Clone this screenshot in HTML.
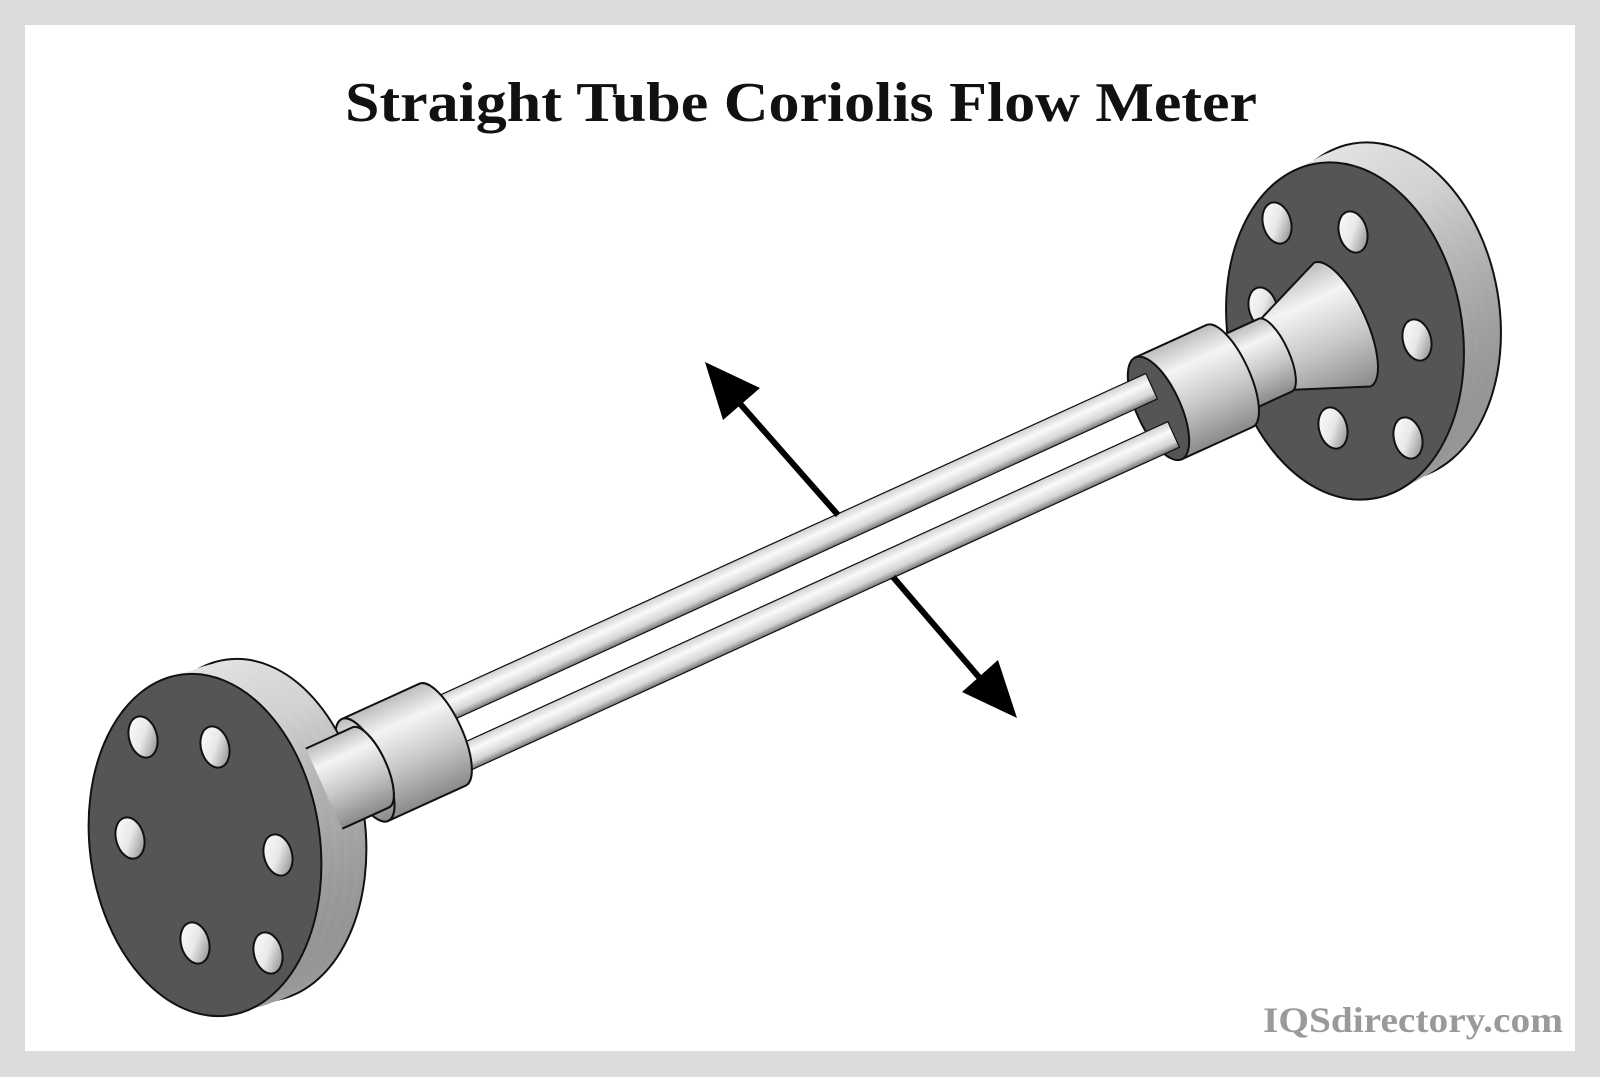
<!DOCTYPE html>
<html><head><meta charset="utf-8"><style>
html,body{margin:0;padding:0;background:#dcdcdc;}
svg{display:block;}
</style></head><body>
<svg width="1600" height="1077" viewBox="0 0 1600 1077" xmlns="http://www.w3.org/2000/svg">
<defs>
<linearGradient id="cyl" x1="0" y1="0" x2="0" y2="1">
<stop offset="0" stop-color="#bdbdbd"/><stop offset="0.25" stop-color="#f4f4f4"/><stop offset="0.6" stop-color="#c8c8c8"/><stop offset="1" stop-color="#8a8a8a"/></linearGradient>
<linearGradient id="tube" x1="0" y1="0" x2="0" y2="1">
<stop offset="0" stop-color="#d0d0d0"/><stop offset="0.35" stop-color="#fafafa"/><stop offset="0.75" stop-color="#d5d5d5"/><stop offset="1" stop-color="#777"/></linearGradient>
<linearGradient id="rim" x1="0" y1="0" x2="1" y2="1">
<stop offset="0" stop-color="#f2f2f2"/><stop offset="0.5" stop-color="#d2d2d2"/><stop offset="1" stop-color="#7a7a7a"/></linearGradient>
<linearGradient id="hole" x1="0" y1="0" x2="1" y2="1">
<stop offset="0" stop-color="#ffffff"/><stop offset="0.5" stop-color="#e8e8e8"/><stop offset="1" stop-color="#7a7a7a"/></linearGradient>
</defs>
<rect x="25" y="25" width="1550" height="1026" fill="#fff"/>
<text x="801" y="121" text-anchor="middle" font-family="Liberation Serif, serif" font-weight="bold" font-size="56" textLength="912" lengthAdjust="spacingAndGlyphs" fill="#111">Straight Tube Coriolis Flow Meter</text>
<text x="1563" y="1032" text-anchor="end" font-family="Liberation Serif, serif" font-weight="bold" font-size="36" textLength="300" lengthAdjust="spacingAndGlyphs" fill="#9a9a9a">IQSdirectory.com</text>

<!-- right flange rim -->
<g fill="url(#rim)">
<ellipse cx="1382" cy="311" rx="117" ry="170" transform="rotate(-10 1382 311)" stroke="#111" stroke-width="2"/>
<ellipse cx="1373" cy="316" rx="117" ry="170" transform="rotate(-10 1373 316)"/>
<ellipse cx="1364" cy="321" rx="117" ry="170" transform="rotate(-10 1364 321)"/>
<ellipse cx="1355" cy="326" rx="117" ry="170" transform="rotate(-10 1355 326)"/>
</g>
<ellipse cx="1345" cy="331" rx="117" ry="170" transform="rotate(-10 1345 331)" fill="#555" stroke="#111" stroke-width="2"/>
<g fill="url(#hole)" stroke="#111" stroke-width="2">
<ellipse cx="1277" cy="223" rx="14" ry="21" transform="rotate(-15 1277 223)"/>
<ellipse cx="1353" cy="232" rx="14" ry="21" transform="rotate(-15 1353 232)"/>
<ellipse cx="1417" cy="340" rx="14" ry="21" transform="rotate(-15 1417 340)"/>
<ellipse cx="1333" cy="428" rx="14" ry="21" transform="rotate(-15 1333 428)"/>
<ellipse cx="1408" cy="438" rx="14" ry="21" transform="rotate(-15 1408 438)"/>
<ellipse cx="1263" cy="308" rx="14" ry="21" transform="rotate(-15 1263 308)"/>
</g>

<!-- right side hardware in local axis frame -->
<g transform="translate(365,770) rotate(-24.5)" stroke="#111" stroke-width="2">
<path d="M1000,-38 L1074,-68 A24,68 0 0 1 1074,68 L1000,38 Z" fill="url(#cyl)"/>
<path d="M945,-40 L1000,-40 A14,40 0 0 1 1000,40 L945,40 Z" fill="url(#cyl)"/>
<path d="M872,-56 L950,-56 A20,56 0 0 1 950,56 L872,56 Z" fill="url(#cyl)"/>
<ellipse cx="872" cy="0" rx="22" ry="56" fill="#555"/>
<rect x="85" y="-37" width="790" height="28" fill="url(#tube)" stroke-width="1.2"/>
<rect x="85" y="16" width="790" height="28" fill="url(#tube)" stroke-width="1.2"/>
<path d="M0,-56 L85,-56 A20,56 0 0 1 85,56 L0,56 Z" fill="url(#cyl)"/>
<ellipse cx="0" cy="0" rx="20" ry="56" fill="url(#cyl)"/>
<path d="M-60,-44 L6,-44 A16,44 0 0 1 6,44 L-60,44 Z" fill="url(#cyl)"/>
</g>

<!-- left flange -->
<g fill="url(#rim)">
<ellipse cx="250" cy="830" rx="115" ry="172" transform="rotate(-8 250 830)" stroke="#111" stroke-width="2"/>
<ellipse cx="239" cy="834" rx="115" ry="172" transform="rotate(-8 239 834)"/>
<ellipse cx="228" cy="838" rx="115" ry="172" transform="rotate(-8 228 838)"/>
<ellipse cx="217" cy="841" rx="115" ry="172" transform="rotate(-8 217 841)"/>
</g>
<g transform="translate(365,770) rotate(-24.5)" stroke="#111" stroke-width="2">
<path d="M-45,-44 L6,-44 A16,44 0 0 1 6,44 L-45,44" fill="url(#cyl)"/>
</g>
<ellipse cx="205" cy="845" rx="115" ry="172" transform="rotate(-8 205 845)" fill="#555" stroke="#111" stroke-width="2"/>
<g fill="url(#hole)" stroke="#111" stroke-width="2">
<ellipse cx="143" cy="737" rx="14" ry="21" transform="rotate(-15 143 737)"/>
<ellipse cx="215" cy="747" rx="14" ry="21" transform="rotate(-15 215 747)"/>
<ellipse cx="130" cy="838" rx="14" ry="21" transform="rotate(-15 130 838)"/>
<ellipse cx="278" cy="855" rx="14" ry="21" transform="rotate(-15 278 855)"/>
<ellipse cx="195" cy="943" rx="14" ry="21" transform="rotate(-15 195 943)"/>
<ellipse cx="268" cy="953" rx="14" ry="21" transform="rotate(-15 268 953)"/>
</g>

<!-- arrows -->
<line x1="838" y1="515" x2="728" y2="390" stroke="#000" stroke-width="6"/>
<polygon points="705,362 723,420 760,388" fill="#000"/>
<line x1="893" y1="577" x2="990" y2="690" stroke="#000" stroke-width="6"/>
<polygon points="1017,718 962,692 998,660" fill="#000"/>
</svg>
</body></html>
